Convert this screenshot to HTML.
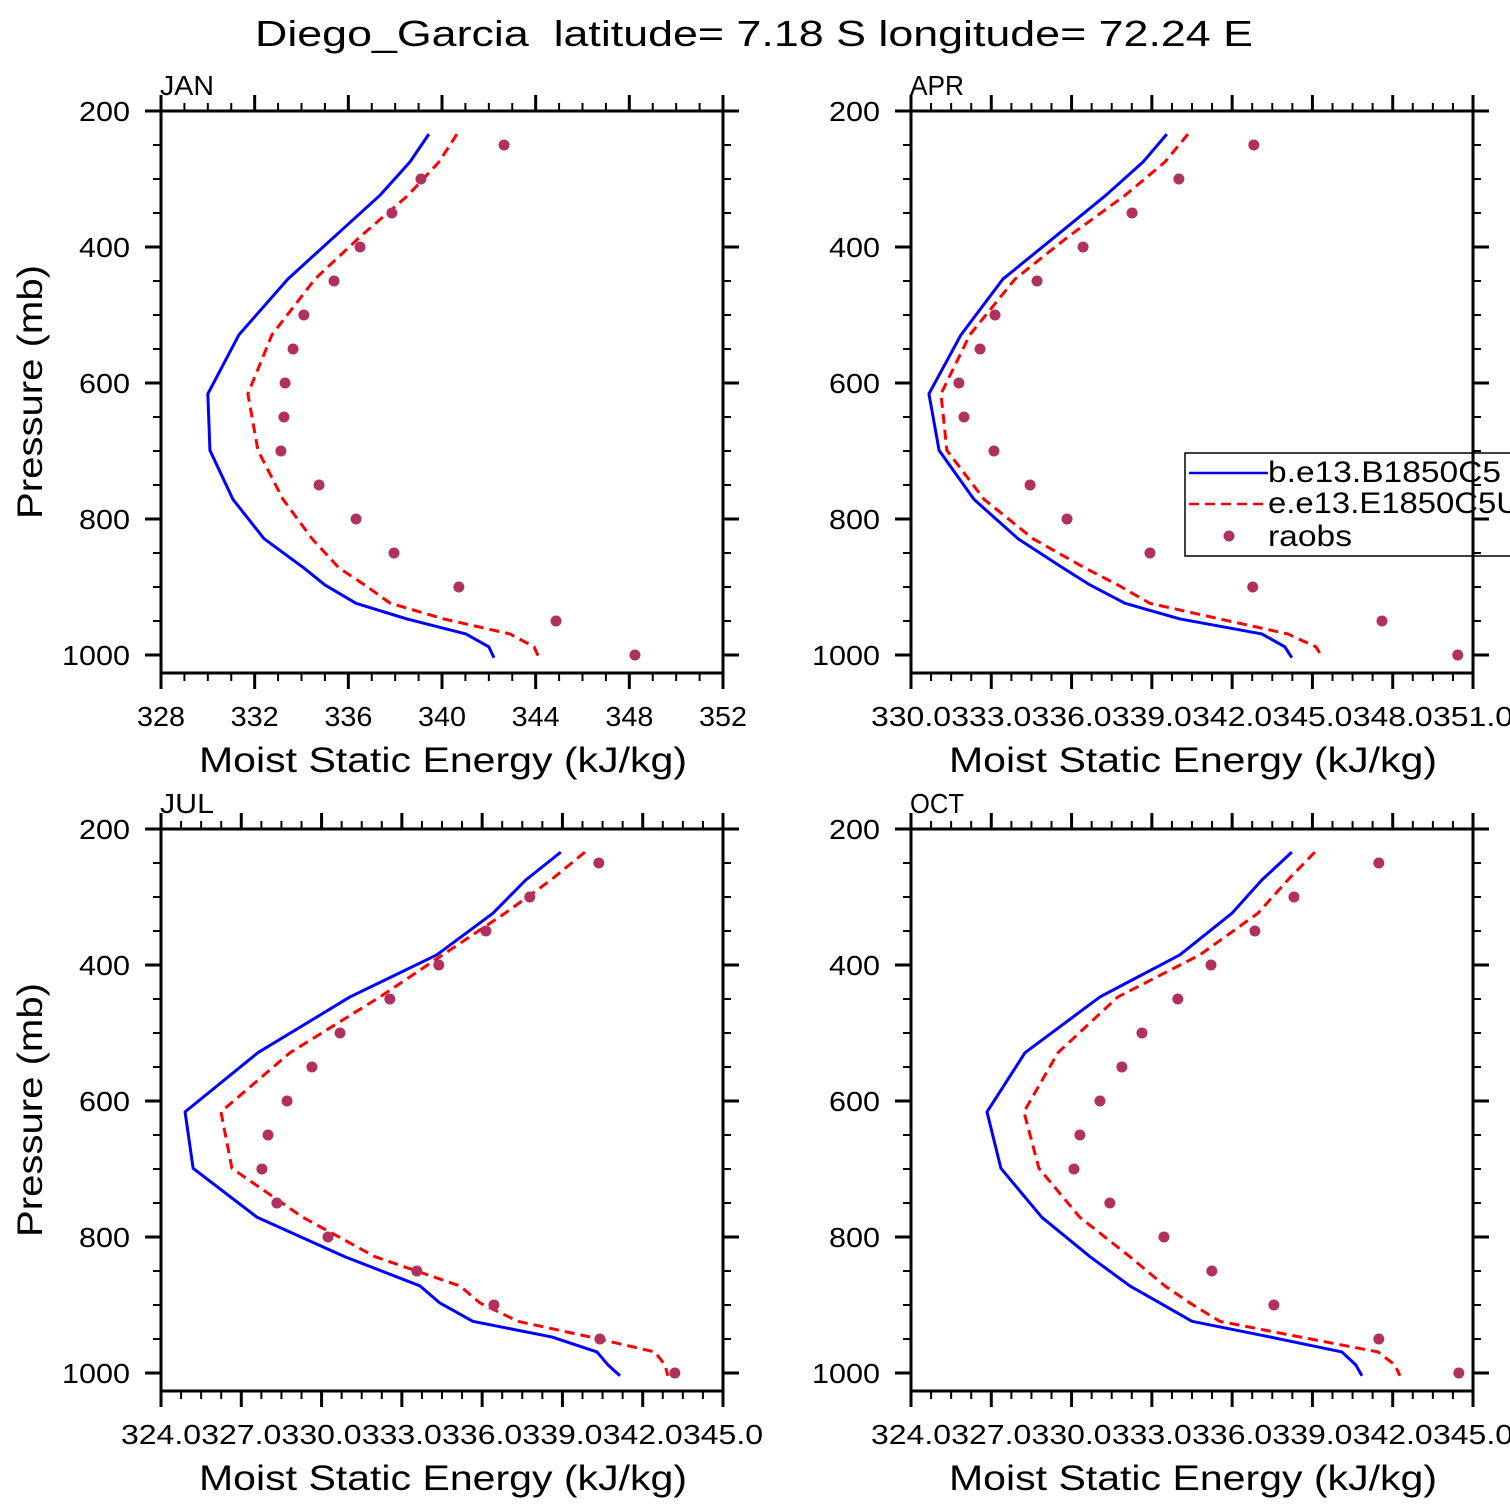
<!DOCTYPE html>
<html><head><meta charset="utf-8"><style>
html,body{margin:0;padding:0;background:#fff;overflow:hidden;}
svg{display:block;font-family:"Liberation Sans",sans-serif;}
</style></head><body>
<svg id="chart" width="1510" height="1510" viewBox="0 0 1510 1510" xmlns="http://www.w3.org/2000/svg">
<rect width="1510" height="1510" fill="#fff"/>
<text x="255" y="46" textLength="998" lengthAdjust="spacingAndGlyphs" font-size="36" fill="#000" xml:space="preserve">Diego_Garcia  latitude= 7.18 S longitude= 72.24 E</text>
</svg>
<script>
// Pressure levels (mb) for model series
const levels = [234,275,324,385,447,529,616,699,771,829,872,897,924,947,969,988,1004];
// Raob pressure levels
const obsLevels = [250,300,350,400,450,500,550,600,650,700,750,800,850,900,950,1000];

const janModelB = [339.44,338.63,337.35,335.4,333.42,331.33,330.0,330.09,331.07,332.40,334.1,335.0,336.33,338.5,341.02,342.0,342.22];
const janModelE = [340.64,339.87,338.55,336.5,334.58,332.74,331.71,332.14,333.21,334.45,335.6,336.7,337.8,340.08,342.9,343.93,344.14];
const janObs = [342.65,339.1,337.86,336.5,335.39,334.1,333.64,333.3,333.25,333.12,334.75,336.33,337.95,340.72,344.87,348.24];

const aprModelB = [339.56,338.67,337.28,335.38,333.44,331.87,330.67,331.05,332.35,334.0,335.68,336.69,338.0,340.05,343.11,343.97,344.23];
const aprModelE = [340.35,339.49,338.0,335.87,333.89,332.2,331.12,331.34,332.73,334.56,336.5,337.73,338.93,341.54,344.08,345.13,345.39];
const aprObs = [342.81,340.01,338.26,336.43,334.71,333.14,332.58,331.79,331.98,333.1,334.45,335.83,338.93,342.77,347.6,350.43];

const julModelB = [338.94,337.63,336.4,334.31,331.06,327.62,324.9,325.2,327.59,330.87,333.68,334.42,335.65,338.6,340.29,340.7,341.15];
const julModelE = [339.84,338.57,336.85,334.53,332.18,328.82,326.24,326.65,329.3,332.0,335.17,335.92,337.34,340.03,342.45,342.83,342.94];
const julObs = [340.36,337.78,336.14,334.38,332.55,330.69,329.64,328.71,328.0,327.77,328.33,330.24,333.56,336.44,340.4,343.2];

const octModelB = [338.23,337.11,335.99,334.05,331.06,328.26,326.84,327.36,328.89,330.69,332.18,333.3,334.5,337.41,340.1,340.62,340.85];
const octModelE = [339.09,338.08,336.96,334.8,331.73,329.49,328.22,328.78,330.31,332.18,333.49,334.42,335.54,338.53,341.45,342.08,342.27];
const octObs = [341.48,338.31,336.85,335.21,333.97,332.63,331.88,331.06,330.31,330.09,331.43,333.45,335.24,337.56,341.48,344.47];

const janTicks = ["328","332","336","340","344","348","352"];
const aprTicks = ["330.0","333.0","336.0","339.0","342.0","345.0","348.0","351.0"];
const julTicks = ["324.0","327.0","330.0","333.0","336.0","339.0","342.0","345.0"];
const octTicks = ["324.0","327.0","330.0","333.0","336.0","339.0","342.0","345.0"];
const pTicks = ["200","400","600","800","1000"];

const NS = "http://www.w3.org/2000/svg";
const svg = document.getElementById("chart");
function mk(tag, attrs, parent){ const e=document.createElementNS(NS,tag); for(const k in attrs) e.setAttribute(k,attrs[k]); (parent||svg).appendChild(e); return e; }

function panel(cfg){
  const L=cfg.x0, R=cfg.x0+562, T=cfg.y0, B=cfg.y0+562;
  const g = mk("g",{});
  
  
  const xmin=parseFloat(cfg.ticks[0]), xmax=parseFloat(cfg.ticks[cfg.ticks.length-1]);
  const xs = v => L + (v-xmin)/(xmax-xmin)*562;
  const ys = p => T + (p-200)*0.68;
  const cp = mk("clipPath",{id:"clip-"+cfg.id},g);
  mk("rect",{x:L,y:T,width:562,height:562},cp);
  const step=(xmax-xmin)/(cfg.ticks.length-1);
  for(let i=0;i<cfg.ticks.length;i++){
    const v=xmin+i*step, x=xs(v);
    mk("line",{x1:x,y1:B,x2:x,y2:B+16,stroke:"#000","stroke-width":3},g);
    mk("line",{x1:x,y1:T,x2:x,y2:T-16,stroke:"#000","stroke-width":3},g);
    const s=cfg.ticks[i];
    const t=mk("text",{x:x,y:B+53,"text-anchor":"middle","font-size":28,textLength:s.length*16,lengthAdjust:"spacingAndGlyphs"},g);
    
    
    t.textContent=s;
    if(i<cfg.ticks.length-1){
      for(let k=1;k<4;k++){
        const xm=xs(v+step*k/4);
        mk("line",{x1:xm,y1:B,x2:xm,y2:B+8,stroke:"#000","stroke-width":2},g);
        mk("line",{x1:xm,y1:T,x2:xm,y2:T-8,stroke:"#000","stroke-width":2},g);
      }
    }
  }
  for(let p=200;p<=1000;p+=50){
    const y=ys(p), maj=(p%200===0), len=maj?16:8, w=maj?3:2;
    mk("line",{x1:L,y1:y,x2:L-len,y2:y,stroke:"#000","stroke-width":w},g);
    mk("line",{x1:R,y1:y,x2:R+len,y2:y,stroke:"#000","stroke-width":w},g);
  }
  pTicks.forEach(s=>{
    const t=mk("text",{x:L-31,y:ys(parseFloat(s))+10,"text-anchor":"end","font-size":28,textLength:s.length*17,lengthAdjust:"spacingAndGlyphs"},g);
    
    
    t.textContent=s;
  });
  const gp = mk("g",{"clip-path":"url(#clip-"+cfg.id+")"},g);
  const ptsB = levels.map((p,i)=>xs(cfg.b[i])+","+ys(p)).join(" ");
  const lb=mk("polyline",{points:ptsB,fill:"none",stroke:"#0000ff","stroke-width":3,"stroke-linejoin":"round"},gp);
  
  
  const ptsE = levels.map((p,i)=>xs(cfg.e[i])+","+ys(p)).join(" ");
  const le=mk("polyline",{points:ptsE,fill:"none",stroke:"#ff0000","stroke-width":3,"stroke-dasharray":"10,6"},gp);
  
  
  obsLevels.forEach((p,i)=>{
    const c=mk("circle",{cx:xs(cfg.o[i]),cy:ys(p),r:5.5,fill:"#b03060"},gp);
    
    
  });
  mk("rect",{x:L,y:T,width:562,height:562,fill:"none",stroke:"#000","stroke-width":3},g);
  const lab=mk("text",{x:L-1,y:T-16,"font-size":28,textLength:54,lengthAdjust:"spacingAndGlyphs"},g);
  
  
  lab.textContent=cfg.label;
  const xt=mk("text",{x:L+38,y:B+99,"font-size":35,textLength:488,lengthAdjust:"spacingAndGlyphs"},g);
  
  
  xt.textContent="Moist Static Energy (kJ/kg)";
  if(cfg.ylab){
    const yt=mk("text",{x:-127,y:0,"font-size":35,textLength:254,lengthAdjust:"spacingAndGlyphs",transform:"translate(42,"+(T+281)+") rotate(-90)"},g);
    
    
    yt.textContent="Pressure (mb)";
  }
}
panel({id:"jan",label:"JAN",x0:161,y0:111,ticks:janTicks,b:janModelB,e:janModelE,o:janObs,ylab:true});
panel({id:"apr",label:"APR",x0:911,y0:111,ticks:aprTicks,b:aprModelB,e:aprModelE,o:aprObs,ylab:false});
panel({id:"jul",label:"JUL",x0:161,y0:829,ticks:julTicks,b:julModelB,e:julModelE,o:julObs,ylab:true});
panel({id:"oct",label:"OCT",x0:911,y0:829,ticks:octTicks,b:octModelB,e:octModelE,o:octObs,ylab:false});

// legend
const lg=mk("g",{});


mk("rect",{x:1185,y:453,width:340,height:103,fill:"none",stroke:"#000","stroke-width":1.5},lg);
mk("line",{x1:1189,y1:473,x2:1268,y2:473,stroke:"#0000ff","stroke-width":2.5},lg);
mk("line",{x1:1189,y1:504,x2:1268,y2:504,stroke:"#ff0000","stroke-width":2.5,"stroke-dasharray":"10,6"},lg);
mk("circle",{cx:1229,cy:536,r:5.5,fill:"#b03060"},lg);
[["b.e13.B1850C5",482,"legend-entry-b",233],["e.e13.E1850C5U",513,"legend-entry-e",252],["raobs",546,"legend-entry-raobs",84]].forEach(a=>{
  const t=mk("text",{x:1268,y:a[1],"font-size":30,textLength:a[3],lengthAdjust:"spacingAndGlyphs"},lg);
  
  
  t.textContent=a[0];
});
</script>
</body></html>
